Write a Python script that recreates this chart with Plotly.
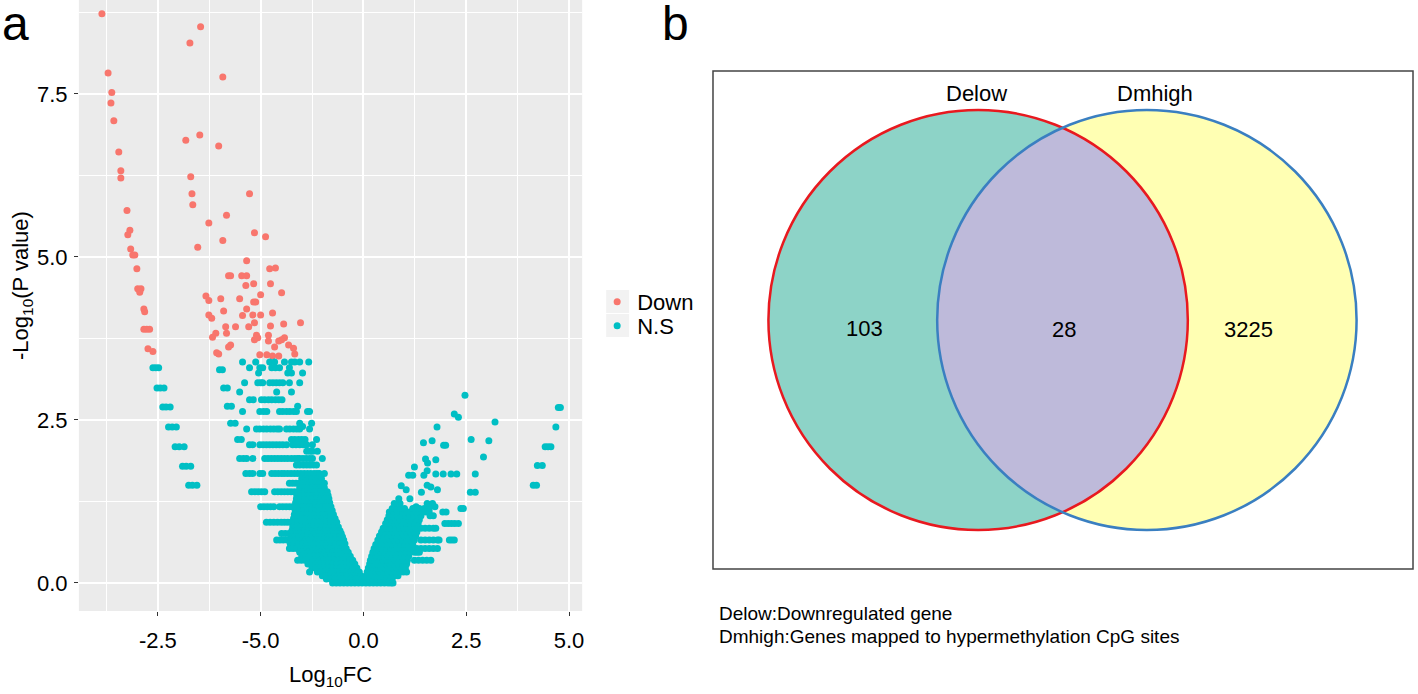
import numpy as np
import plotly.graph_objects as go

# ---------------- panel a : volcano plot data ----------------
x_tick_vals = [-5.0, -2.5, 0.0, 2.5, 5.0]
x_tick_text = ["-2.5", "-5.0", "0.0", "2.5", "5.0"]
y_tick_vals = [0.0, 2.5, 5.0, 7.5]
y_tick_text = ["0.0", "2.5", "5.0", "7.5"]
x_minor_vals = [-6.25, -3.75, -1.25, 1.25, 3.75]
y_minor_vals = [1.25, 3.75, 6.25, 8.75]
groups = ["Down", "N.S"]
group_colors = ["#F8766D", "#00BFC4"]

# significant down-regulated genes (log10FC, -log10 P)
down_points = [
    (-6.36, 8.73), (-6.21, 7.82), (-6.12, 7.52), (-6.14, 7.36), (-6.07, 7.09),
    (-5.95, 6.61), (-5.90, 6.32), (-5.90, 6.21), (-5.75, 5.71), (-5.68, 5.41),
    (-5.73, 5.34), (-5.66, 5.12), (-5.61, 5.03), (-5.56, 5.03), (-5.51, 4.82),
    (-5.49, 4.51), (-5.41, 4.51), (-5.44, 4.46), (-5.34, 4.20), (-5.32, 4.16),
    (-5.34, 3.89), (-5.27, 3.89), (-5.20, 3.89), (-5.24, 3.59), (-5.12, 3.55),
    (-3.96, 8.53), (-4.22, 8.28), (-3.42, 7.76), (-4.32, 6.79), (-3.98, 6.87),
    (-3.52, 6.70), (-4.20, 6.23), (-4.17, 5.97), (-4.15, 5.80), (-2.77, 5.97),
    (-3.33, 5.64), (-3.76, 5.52), (-3.42, 5.25), (-4.03, 5.15), (-2.65, 5.37),
    (-2.38, 5.31), (-2.84, 4.94), (-3.28, 4.71), (-3.23, 4.71), (-2.96, 4.71),
    (-2.84, 4.71), (-2.86, 4.56), (-2.67, 4.59), (-2.28, 4.82), (-2.14, 4.83),
    (-2.26, 4.59), (-1.99, 4.45), (-2.50, 4.42), (-3.83, 4.40), (-3.76, 4.33),
    (-3.47, 4.36), (-3.01, 4.36), (-2.67, 4.31), (-2.62, 4.31), (-3.40, 4.17),
    (-2.84, 4.20), (-2.21, 4.14), (-3.76, 4.11), (-3.69, 4.06), (-2.94, 4.10),
    (-2.69, 4.11), (-2.50, 4.11),
    (-1.53, 3.99), (-1.94, 3.97), (-2.26, 3.94), (-2.65, 3.99), (-2.79, 3.93),
    (-3.11, 3.93), (-3.35, 3.93), (-3.33, 3.83), (-3.59, 3.83), (-3.67, 3.77),
    (-2.60, 3.80), (-2.65, 3.73), (-2.57, 3.76), (-2.31, 3.80), (-1.92, 3.76),
    (-2.31, 3.71), (-2.06, 3.71), (-1.99, 3.73), (-3.23, 3.65), (-3.28, 3.62),
    (-2.16, 3.62), (-1.82, 3.65), (-1.70, 3.60), (-3.57, 3.53), (-3.52, 3.51),
    (-2.52, 3.50), (-2.35, 3.50), (-2.21, 3.48), (-2.06, 3.48), (-1.67, 3.51),
]

# non-significant genes, grouped by -log10 P level: (y, [log10FC values])
ns_rows = [
    # far-left arm
    (3.30, [-5.12, -5.05, -4.98]),
    (2.99, [-5.02, -4.94, -4.85]),
    (2.70, [-4.88, -4.80, -4.70]),
    (2.39, [-4.74, -4.65, -4.55]),
    (2.09, [-4.58, -4.48, -4.36]),
    (1.79, [-4.40, -4.31, -4.20]),
    (1.50, [-4.25, -4.16, -4.05]),
    # left block, upper streaks
    (3.39, [-2.94, -2.62, -2.28, -2.16, -1.92, -1.75, -1.67, -1.55, -1.33]),
    (3.30, [-2.77, -2.52, -2.45, -2.23, -2.14, -2.04, -1.80]),
    (3.27, [-3.50, -3.43]),
    (3.22, [-2.55, -1.84, -1.75, -1.48]),
    (3.07, [-2.89, -2.57, -2.50, -2.45, -2.28, -2.20, -2.12, -2.04, -1.96, -1.80, -1.55]),
    (2.99, [-3.40, -3.31]),
    (2.93, [-3.01, -2.11, -1.75]),
    (2.81, [-2.77, -2.68, -2.48, -2.40, -2.31, -2.23, -2.14, -2.06, -1.98]),
    (2.71, [-3.31, -3.21, -1.60]),
    (2.63, [-2.94, -2.52, -2.43, -2.35, -2.04, -1.96, -1.87, -1.79, -1.70, -1.63, -1.36, -1.31]),
    (2.45, [-3.23, -3.12, -1.55, -1.26]),
    (2.40, [-1.48]),
    (2.36, [-2.84, -2.60, -2.52, -2.43, -2.35, -2.26, -2.18, -2.10, -2.04, -1.87, -1.79,
            -1.70, -1.62, -1.55, -1.31]),
    (2.20, [-3.06, -2.97, -1.75, -1.67, -1.58, -1.50, -1.42, -1.14]),
    (2.12, [-2.77, -2.69, -2.52, -2.44, -2.36, -2.28, -2.20, -2.12, -2.04, -1.96, -1.87,
            -1.72, -1.64, -1.55, -1.46, -1.38, -1.24]),
    (2.02, [-1.38, -1.30, -1.24, -1.12]),
    (1.91, [-3.01, -2.92, -2.84, -2.69, -2.40, -2.32, -2.24, -2.16, -2.08, -2.00, -1.92,
            -1.84, -1.75, -1.67, -1.60, -1.55, -1.47, -1.39, -1.31, -1.24, -1.00]),
    (1.81, [-1.63, -1.55, -1.46, -1.38, -1.30, -1.22, -1.14]),
    (1.68, [-2.86, -2.77, -2.69, -2.52, -2.45, -2.23, -2.15, -2.07, -1.99, -1.92, -1.84,
            -1.76, -1.68, -1.60, -1.52, -1.44, -1.36, -1.28, -1.20, -1.13, -1.07, -0.95]),
    (1.60, [-1.50, -1.42, -1.34, -1.26, -1.18, -1.10, -1.02]),
    (1.53, [-1.80, -1.72, -1.64, -1.56, -1.48, -1.40, -1.32, -1.24, -1.16, -1.08, -1.00, -0.95]),
    (1.46, [-1.55, -1.45, -1.35, -1.25, -1.15, -1.05, -0.95]),
    # left block, dense lower part
    (1.40, [-2.72, -2.64, -2.56, -2.48, -2.40, -2.16, -2.08, -2.00, -1.92, -1.84, -1.76,
            -1.68, -1.60, -1.52, -1.44, -1.36, -1.28, -1.20, -1.12, -1.04, -0.96, -0.88]),
    (1.34, [-1.62, -1.52, -1.42, -1.32, -1.22, -1.12, -1.02, -0.94, -0.86]),
    (1.29, [-1.63, -1.53, -1.43, -1.33, -1.23, -1.13, -1.03, -0.93, -0.84]),
    (1.23, [-1.65, -1.55, -1.45, -1.35, -1.25, -1.15, -1.05, -0.95, -0.88, -0.82]),
    (1.17, [-2.50, -2.42, -2.34, -2.26, -2.18, -2.04, -1.96, -1.88, -1.80, -1.72, -1.64,
            -1.56, -1.48, -1.40, -1.32, -1.24, -1.16, -1.08, -1.00, -0.92, -0.84, -0.79]),
    (1.11, [-1.66, -1.56, -1.46, -1.36, -1.26, -1.16, -1.06, -0.96, -0.86, -0.76]),
    (1.05, [-1.68, -1.58, -1.48, -1.38, -1.28, -1.18, -1.08, -0.98, -0.88, -0.80, -0.73]),
    (0.99, [-1.70, -1.60, -1.50, -1.40, -1.30, -1.20, -1.10, -1.00, -0.90, -0.80, -0.69]),
    (0.93, [-2.36, -2.27, -2.18, -2.09, -2.00, -1.92, -1.84, -1.76, -1.68, -1.60, -1.50,
            -1.40, -1.30, -1.20, -1.10, -1.00, -0.90, -0.80, -0.72, -0.65]),
    (0.86, [-1.72, -1.62, -1.52, -1.42, -1.32, -1.22, -1.12, -1.02, -0.92, -0.82, -0.72, -0.61]),
    (0.80, [-1.74, -1.64, -1.54, -1.44, -1.34, -1.24, -1.14, -1.04, -0.94, -0.84, -0.74,
            -0.64, -0.57]),
    (0.76, [-1.99, -1.90, -1.81, -1.72, -1.63, -1.54, -1.45, -1.36, -1.27, -1.18, -1.09,
            -1.00, -0.91, -0.82, -0.73, -0.64, -0.54]),
    (0.71, [-1.76, -1.66, -1.56, -1.46, -1.36, -1.26, -1.16, -1.06, -0.96, -0.86, -0.76,
            -0.66, -0.58, -0.51]),
    (0.66, [-2.11, -2.03, -1.95, -1.86, -1.77, -1.68, -1.59, -1.50, -1.41, -1.32, -1.23,
            -1.14, -1.05, -0.96, -0.87, -0.78, -0.69, -0.60, -0.48]),
    (0.60, [-1.78, -1.68, -1.58, -1.48, -1.38, -1.28, -1.18, -1.08, -0.98, -0.88, -0.78,
            -0.68, -0.58, -0.50, -0.45]),
    (0.53, [-1.80, -1.71, -1.62, -1.53, -1.44, -1.35, -1.26, -1.17, -1.08, -0.99, -0.90,
            -0.81, -0.72, -0.63, -0.54, -0.46, -0.42]),
    (0.47, [-1.55, -1.45, -1.35, -1.25, -1.15, -1.05, -0.95, -0.85, -0.75, -0.65, -0.55,
            -0.45, -0.37]),
    (0.41, [-1.50, -1.40, -1.30, -1.20, -1.10, -1.00, -0.90, -0.80, -0.70, -0.60, -0.50,
            -0.40, -0.32]),
    (0.35, [-1.60, -1.51, -1.42, -1.33, -1.24, -1.15, -1.06, -0.97, -0.88, -0.79, -0.70,
            -0.61, -0.52, -0.43, -0.34, -0.26]),
    (0.29, [-1.35, -1.25, -1.15, -1.05, -0.95, -0.85, -0.75, -0.65, -0.55, -0.45, -0.35,
            -0.27, -0.21]),
    (0.23, [-1.25, -1.15, -1.05, -0.95, -0.85, -0.75, -0.65, -0.55, -0.45, -0.35, -0.25, -0.16]),
    (0.17, [-1.31, -1.12, -1.03, -0.94, -0.85, -0.76, -0.67, -0.58, -0.49, -0.40, -0.31,
            -0.22, -0.14, -0.10]),
    (0.11, [-1.00, -0.90, -0.80, -0.70, -0.60, -0.50, -0.40, -0.30, -0.20, -0.12, -0.07]),
    (0.06, [-0.90, -0.80, -0.70, -0.60, -0.50, -0.40, -0.30, -0.20, -0.11, -0.04]),
    (0.00, [-0.75, -0.66, -0.57, -0.48, -0.39, -0.30, -0.21, -0.12, -0.03, 0.06, 0.15,
            0.24, 0.33, 0.42, 0.51, 0.60, 0.67, 0.72]),
    # right block
    (0.06, [0.03, 0.12, 0.22, 0.32, 0.42, 0.52, 0.62, 0.70]),
    (0.11, [0.06, 0.15, 0.25, 0.35, 0.45, 0.55, 0.65, 0.75, 0.84]),
    (0.17, [0.09, 0.19, 0.29, 0.39, 0.49, 0.59, 0.69, 0.79, 0.89, 0.97, 1.05]),
    (0.23, [0.12, 0.22, 0.32, 0.42, 0.52, 0.62, 0.72, 0.82, 0.92, 1.02]),
    (0.29, [0.15, 0.25, 0.35, 0.45, 0.55, 0.65, 0.75, 0.85, 0.95, 1.05]),
    (0.35, [0.17, 0.27, 0.37, 0.47, 0.57, 0.67, 0.77, 0.87, 0.97, 1.07, 1.24, 1.34, 1.44,
            1.54, 1.64]),
    (0.41, [0.20, 0.30, 0.40, 0.50, 0.60, 0.70, 0.80, 0.90, 1.00, 1.10]),
    (0.47, [0.23, 0.33, 0.43, 0.53, 0.63, 0.73, 0.83, 0.93, 1.03, 1.13, 1.24, 1.30, 1.36]),
    (0.53, [0.26, 0.36, 0.46, 0.56, 0.66, 0.76, 0.86, 0.96, 1.06, 1.16, 1.30, 1.40, 1.50,
            1.60, 1.70, 1.80]),
    (0.59, [0.30, 0.40, 0.50, 0.60, 0.70, 0.80, 0.90, 1.00, 1.10, 1.20]),
    (0.66, [0.35, 0.45, 0.55, 0.65, 0.75, 0.85, 0.95, 1.05, 1.15, 1.24, 1.40, 1.50, 1.60,
            1.70, 1.80, 1.84, 2.09, 2.15, 2.21]),
    (0.72, [0.39, 0.49, 0.59, 0.69, 0.79, 0.89, 0.99, 1.09, 1.19, 1.27]),
    (0.78, [0.44, 0.54, 0.64, 0.74, 0.84, 0.94, 1.04, 1.14, 1.24, 1.30]),
    (0.84, [0.48, 0.58, 0.68, 0.78, 0.88, 0.98, 1.08, 1.18, 1.28, 1.40, 1.50, 1.60, 1.70, 1.76]),
    (0.91, [0.54, 0.64, 0.74, 0.84, 0.94, 1.04, 1.14, 1.24, 1.33, 1.98, 2.06, 2.14, 2.22, 2.31]),
    (0.97, [0.58, 0.68, 0.78, 0.88, 0.98, 1.08, 1.18, 1.28, 1.36]),
    (1.03, [0.62, 0.72, 0.82, 0.92, 1.02, 1.12, 1.22, 1.32, 1.40, 1.62, 1.70]),
    (1.09, [0.63, 0.73, 0.83, 0.95, 1.05, 1.11, 1.20, 1.30, 1.42, 1.52, 1.60, 1.93, 2.01]),
    (1.14, [0.70, 0.80, 0.90, 1.00, 1.20, 1.36, 1.48, 1.60, 2.37, 2.43]),
    (1.17, [1.28, 1.74]),
    (1.22, [0.75, 0.89, 1.55, 1.68]),
    (1.29, [0.86, 1.13]),
    (1.39, [1.41, 2.60, 2.72]),
    (1.43, [1.04, 1.80]),
    (1.47, [1.64]),
    (1.49, [0.92]),
    (1.50, [1.55]),
    (1.65, [1.10, 1.20, 1.47]),
    (1.67, [1.76, 1.94, 2.13, 2.27, 2.72]),
    (1.72, [1.55]),
    (1.78, [1.24]),
    (1.84, [1.56]),
    (1.89, [1.76]),
    (1.90, [1.51]),
    (1.93, [2.92]),
    (2.11, [1.95, 2.00]),
    (2.15, [1.46]),
    (2.18, [1.67, 3.05]),
    (2.20, [2.62]),
    (2.39, [1.79]),
    (2.47, [3.20]),
    (2.54, [2.31]),
    (2.59, [2.21]),
    (2.88, [2.47]),
    # far-right arm
    (2.69, [4.74, 4.79]),
    (2.39, [4.68]),
    (2.09, [4.42, 4.49, 4.56]),
    (1.80, [4.23, 4.35]),
    (1.50, [4.13, 4.21]),
]

# ---------------- panel b : Venn diagram data ----------------
venn_set_names = ["Delow", "Dmhigh"]
venn_counts = [103, 28, 3225]          # Delow only, both, Dmhigh only
venn_notes = ["Delow:Downregulated gene",
              "Dmhigh:Genes mapped to hypermethylation CpG sites"]

# ---------------- build ----------------
down_x = [p[0] for p in down_points]
down_y = [p[1] for p in down_points]
ns_x, ns_y = [], []
for yv, xs in ns_rows:
    for xv in xs:
        ns_x.append(xv)
        ns_y.append(yv)

FW, FH = 1418, 694
FONT = "Arial, 'Liberation Sans', Helvetica, sans-serif"


def px(x):
    return x / FW


def py(y):
    return 1 - y / FH


fig = go.Figure()
fig.add_trace(go.Scatter(x=down_x, y=down_y, mode="markers", name=groups[0],
                         marker=dict(color=group_colors[0], size=7),
                         legend="legend", hoverinfo="skip"))
fig.add_trace(go.Scatter(x=ns_x, y=ns_y, mode="markers", name=groups[1],
                         marker=dict(color=group_colors[1], size=7),
                         legend="legend2", hoverinfo="skip"))

axis_common = dict(showline=False, zeroline=False, gridcolor="white", gridwidth=1.5,
                   ticks="outside", ticklen=4, tickcolor="#333333", tickwidth=1,
                   tickfont=dict(size=22, color="black", family=FONT),
                   tickmode="array", fixedrange=True)

fig.update_layout(
    width=FW, height=FH,
    margin=dict(l=0, r=0, t=0, b=0),
    paper_bgcolor="white", plot_bgcolor="#EBEBEB",
    font=dict(family=FONT, color="black"),
    xaxis=dict(domain=[px(79), px(583)], range=[-6.92, 5.32],
               tickvals=x_tick_vals, ticktext=x_tick_text, ticklabelstandoff=6,
               minor=dict(tickmode="array", tickvals=x_minor_vals, showgrid=True,
                          gridcolor="white", gridwidth=0.8, ticks=""),
               title=dict(text="Log<sub>10</sub>FC", font=dict(size=22, family=FONT),
                          standoff=14),
               **axis_common),
    yaxis=dict(domain=[py(611), py(0)], range=[-0.43, 8.94],
               tickvals=y_tick_vals, ticktext=y_tick_text, ticklabelstandoff=2,
               minor=dict(tickmode="array", tickvals=y_minor_vals, showgrid=True,
                          gridcolor="white", gridwidth=0.8, ticks=""),
               **axis_common),
    legend=dict(x=px(598), y=py(302), xanchor="left", yanchor="middle",
                bgcolor="rgba(0,0,0,0)", font=dict(size=22, family=FONT),
                itemwidth=30, borderwidth=0),
    legend2=dict(x=px(598), y=py(326), xanchor="left", yanchor="middle",
                 bgcolor="rgba(0,0,0,0)", font=dict(size=22, family=FONT),
                 itemwidth=30, borderwidth=0),
    showlegend=True,
)

shapes = []
# legend key backgrounds (ggplot style)
shapes.append(dict(type="rect", xref="paper", yref="paper", x0=px(607), x1=px(630),
                   y0=py(313), y1=py(290), fillcolor="#F2F2F2", line=dict(width=0),
                   layer="below"))
shapes.append(dict(type="rect", xref="paper", yref="paper", x0=px(607), x1=px(630),
                   y0=py(337), y1=py(314), fillcolor="#F2F2F2", line=dict(width=0),
                   layer="below"))

# Venn geometry (pixel layout)
R = 210.0
cL = (979.5, 320.0)
cR = (1148.5, 320.0)


def circle(c, fill, line_color, lw):
    return dict(type="circle", xref="paper", yref="paper",
                x0=px(c[0] - R), x1=px(c[0] + R), y0=py(c[1] + R), y1=py(c[1] - R),
                fillcolor=fill, line=dict(color=line_color, width=lw), layer="above")


shapes.append(circle(cL, "#8DD3C7", "rgba(0,0,0,0)", 0))
shapes.append(circle(cR, "#FFFFB3", "rgba(0,0,0,0)", 0))
a_half = (cR[0] - cL[0]) / 2
theta = np.arccos(a_half / R)
t1 = np.linspace(-theta, theta, 80)
t2 = np.linspace(np.pi - theta, np.pi + theta, 80)
pts = [(cL[0] + R * np.cos(t), cL[1] + R * np.sin(t)) for t in t1]
pts += [(cR[0] + R * np.cos(t), cR[1] + R * np.sin(t)) for t in t2]
path = "M " + " L ".join(f"{px(x):.5f},{py(y):.5f}" for x, y in pts) + " Z"
shapes.append(dict(type="path", xref="paper", yref="paper", path=path,
                   fillcolor="#BEBADA", line=dict(width=0), layer="above"))
shapes.append(circle(cL, "rgba(0,0,0,0)", "#E8191F", 2.5))
shapes.append(circle(cR, "rgba(0,0,0,0)", "#3A7FC1", 2.5))
# Venn frame
shapes.append(dict(type="rect", xref="paper", yref="paper", x0=px(714), x1=px(1415),
                   y0=py(569), y1=py(71), fillcolor="rgba(0,0,0,0)",
                   line=dict(color="#444444", width=1.5), layer="above"))
fig.update_layout(shapes=shapes)

ann = []


def text(x, y, s, size, xanchor="center", angle=0):
    ann.append(dict(x=px(x), y=py(y), xref="paper", yref="paper", text=s,
                    showarrow=False, xanchor=xanchor, yanchor="middle",
                    textangle=angle, font=dict(size=size, family=FONT, color="black")))


text(22, 285, "-Log<sub>10</sub>(P value)", 22, angle=-90)
text(16, 23, "a", 48)
text(676, 23, "b", 48)
text(978, 93, venn_set_names[0], 22)
text(1157, 93, venn_set_names[1], 22)
text(866, 328, str(venn_counts[0]), 22)
text(1066, 329, str(venn_counts[1]), 22)
text(1250, 329, str(venn_counts[2]), 22)
text(718, 613, venn_notes[0], 19, xanchor="left")
text(718, 636, venn_notes[1], 19, xanchor="left")
fig.update_layout(annotations=ann)

fig.write_html("out.html", config={"displayModeBar": False},
               post_script="document.body.style.margin='0px';"
                           "document.body.style.overflow='hidden';")
